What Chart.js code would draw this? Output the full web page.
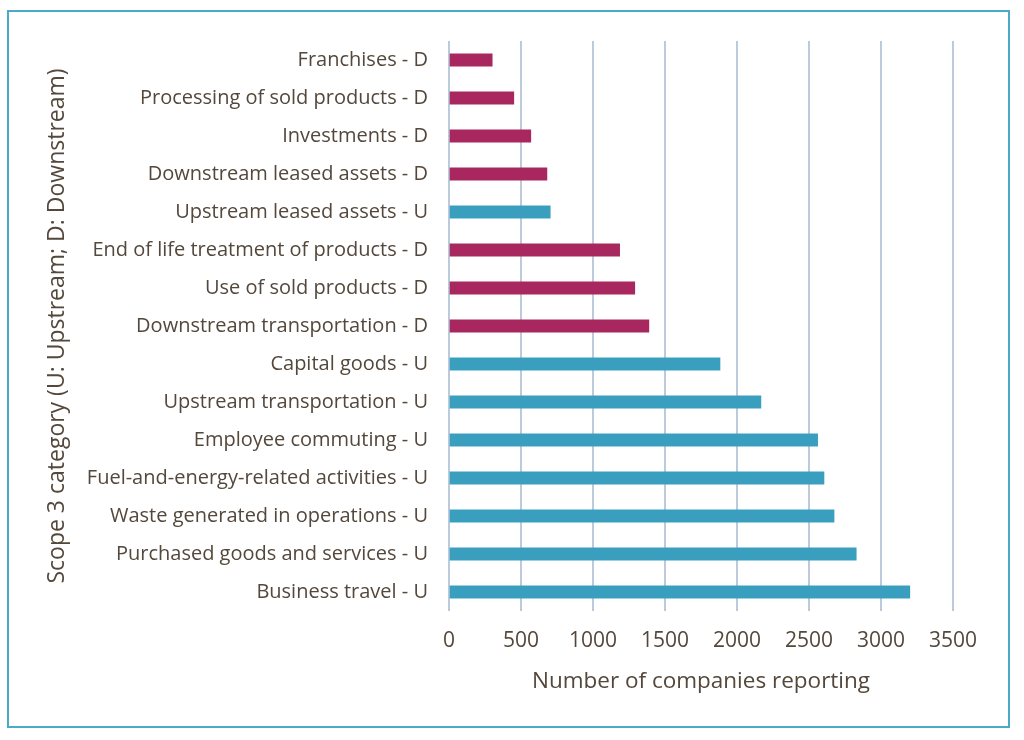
<!DOCTYPE html>
<html>
<head>
<meta charset="utf-8">
<script src="https://cdn.jsdelivr.net/npm/chart.js@4"></script>
<style>
  html, body { margin: 0; padding: 0; background: #fff; }
  #wrap { position: relative; width: 1024px; height: 740px; }
  #frame {
    position: absolute; left: 7px; top: 10px; width: 999px; height: 714px;
    border: 2px solid #4aaac8;
  }
  canvas { position: absolute; left: 0; top: 0; }
</style>
</head>
<body>
<div id="wrap">
  <div id="frame"></div>
  <canvas id="chart" width="1024" height="740"></canvas>
</div>
<script>
// Scope 3 categories, top to bottom as shown
const categories = [
    'Franchises - D',
    'Processing of sold products - D',
    'Investments - D',
    'Downstream leased assets - D',
    'Upstream leased assets - U',
    'End of life treatment of products - D',
    'Use of sold products - D',
    'Downstream transportation - D',
    'Capital goods - U',
    'Upstream transportation - U',
    'Employee commuting - U',
    'Fuel-and-energy-related activities - U',
    'Waste generated in operations - U',
    'Purchased goods and services - U',
    'Business travel - U'
];
const companiesReporting = [300, 450, 568, 680, 703, 1185, 1290, 1388, 1882, 2166, 2560, 2604, 2674, 2828, 3200];
const xTicks = [0, 500, 1000, 1500, 2000, 2500, 3000, 3500];

const upColor = '#3a9fbf';
const downColor = '#a8275f';
const textColor = '#54473b';
const fontFamily = '"Open Sans", "Noto Sans", sans-serif';

// colour each bar by its U / D suffix
const barColors = categories.map(c => c.endsWith('- U') ? upColor : downColor);

new Chart(document.getElementById('chart'), {
    type: 'bar',
    data: {
        labels: categories,
        datasets: [{
            data: companiesReporting,
            backgroundColor: barColors,
            barThickness: 12.5
        }]
    },
    options: {
        indexAxis: 'y',
        responsive: false,
        animation: false,
        layout: { padding: { left: 40, right: 71, top: 41, bottom: 41 } },
        plugins: {
            legend: { display: false },
            tooltip: { enabled: false }
        },
        scales: {
            x: {
                min: 0,
                max: 3500,
                afterBuildTicks: scale => {
                    scale.ticks = xTicks.map(v => ({ value: v }));
                },
                afterFit: scale => { scale.height = 740 - 41 - 611; },
                grid: { color: '#bccbdb', lineWidth: 2, drawTicks: false },
                border: { display: false },
                ticks: {
                    color: textColor,
                    padding: 17,
                    font: { family: fontFamily, size: 21 },
                    callback: v => String(v)
                },
                title: {
                    display: true,
                    text: 'Number of companies reporting',
                    color: textColor,
                    font: { family: fontFamily, size: 22.5 }
                }
            },
            y: {
                afterFit: scale => { scale.width = 449 - 40; },
                grid: { display: false },
                border: { display: false },
                ticks: { color: textColor, padding: 13, font: { family: fontFamily, size: 20 } },
                title: {
                    display: true,
                    text: 'Scope 3 category (U: Upstream; D: Downstream)',
                    color: textColor,
                    font: { family: fontFamily, size: 23 }
                }
            }
        }
    }
});
</script>
</body>
</html>
